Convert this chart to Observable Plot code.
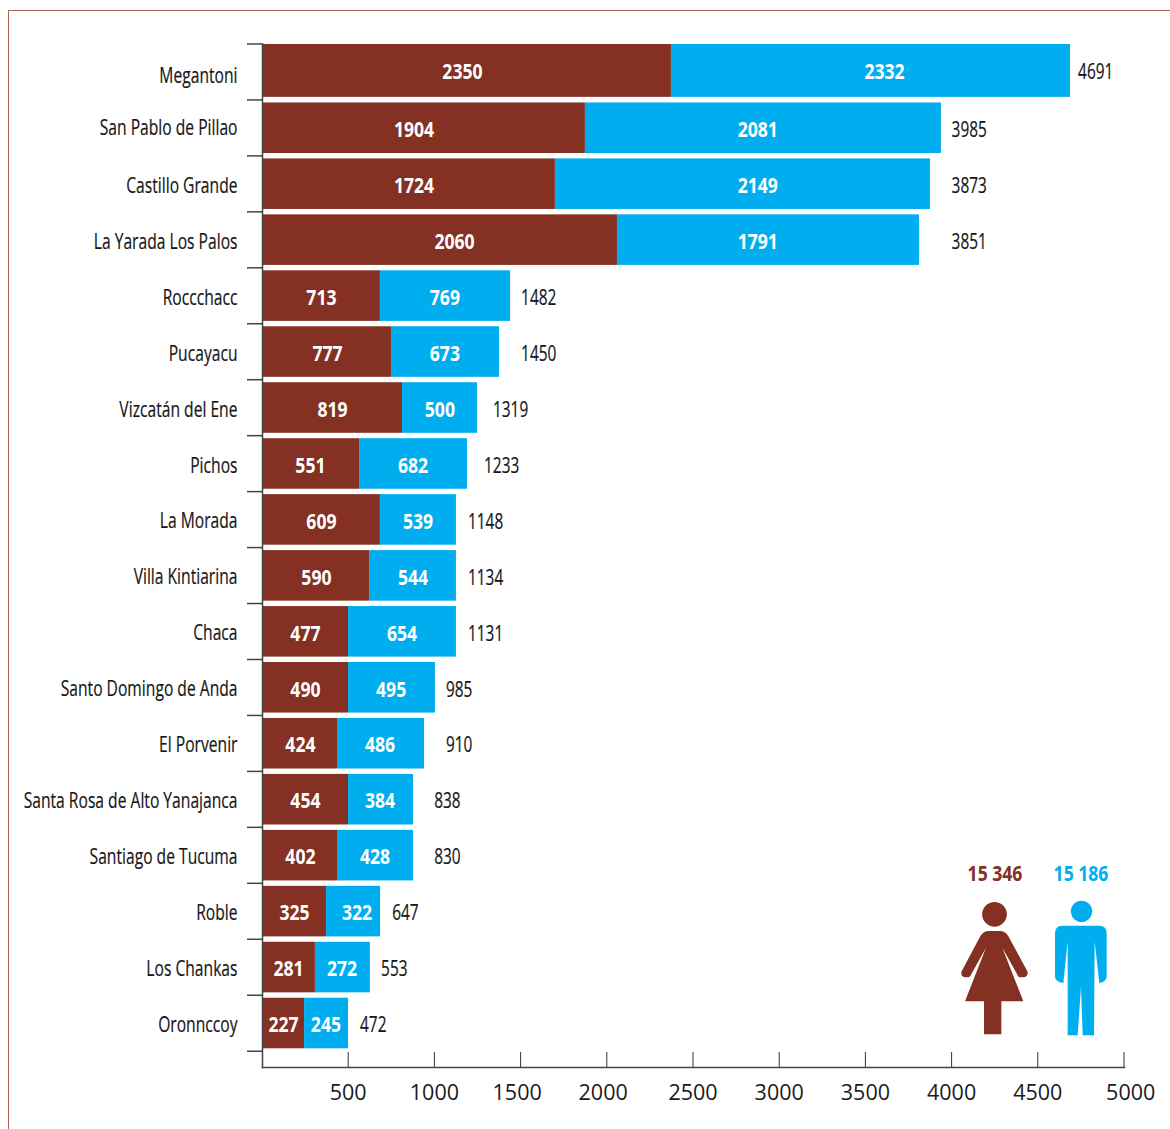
<!DOCTYPE html>
<html lang="es">
<head>
<meta charset="utf-8">
<script src="https://cdn.jsdelivr.net/npm/d3@7"></script>
<script src="https://cdn.jsdelivr.net/npm/@observablehq/plot@0.6"></script>
<style>
html,body{margin:0;padding:0;background:#fff;overflow:hidden}
#page{position:relative;width:1170px;height:1129px}
#border{position:absolute;left:8px;top:10px;right:-4px;bottom:-4px;border-left:1.5px solid #ad6259;border-top:1.5px solid #ad6259}
#chart{position:absolute;left:0;top:0}
#chart svg{display:block;max-width:none}
</style>
</head>
<body>
<div id="page"><div id="border"></div><div id="chart"></div></div>
<script>
const names = ["Megantoni","San Pablo de Pillao","Castillo Grande","La Yarada Los Palos","Roccchacc","Pucayacu","Vizcatán del Ene","Pichos","La Morada","Villa Kintiarina","Chaca","Santo Domingo de Anda","El Porvenir","Santa Rosa de Alto Yanajanca","Santiago de Tucuma","Roble","Los Chankas","Oronnccoy"];
// printed values
const women = [2350,1904,1724,2060,713,777,819,551,609,590,477,490,424,454,402,325,281,227];
const men   = [2332,2081,2149,1791,769,673,500,682,539,544,654,495,486,384,428,322,272,245];
const total = [4691,3985,3873,3851,1482,1450,1319,1233,1148,1134,1131,985,910,838,830,647,553,472];
// bar ends as actually drawn in the picture (the source snaps them)
const womenBarEnd = [2372,1873,1699,2059,684,748,812,563,684,621,499,499,435,499,435,371,307,244];
const totalBarEnd = [4687,3938,3875,3811,1439,1375,1247,1189,1125,1125,1125,1003,940,876,876,685,626,499];
// where the printed values sit, on the axis
const womenLabelAt = [1160,879,879,1114,342,377,406,278,342,313,249,249,220,249,220,186,151,122];
const menLabelAt   = [3608,2873,2873,2873,1058,1058,1029,873,902,873,809,746,682,682,653,548,461,368];
const totalLabelAt = [4731,3997,3997,3997,1500,1500,1337,1285,1192,1192,1192,1064,1064,996,996,752,688,566];
const xTicks = [500,1000,1500,2000,2500,3000,3500,4000,4500,5000];
// the axis labels that sit off their ticks in the picture, with the axis position they sit at
const offsetTicks = [1500,2000,5000];
const offsetTickAt = [1477,1976,5036];
const sexTotals = ["15 346","15 186"];

const BROWN = "#843022", BLUE = "#00aeef", INK = "#161616";
const FACE = "'Open Sans',sans-serif";
const rows = names.map((name,i)=>({name,i,w:women[i],m:men[i],t:total[i],wEnd:womenBarEnd[i],tEnd:totalBarEnd[i],wAt:womenLabelAt[i],mAt:menLabelAt[i],tAt:totalLabelAt[i]}));
const first = rows.slice(0,1), rest = rows.slice(1);

function barLayer(data, insetTop, insetBottom){
  return [
    Plot.barX(data,{y:"name",x1:0,x2:"wEnd",fill:BROWN,insetTop,insetBottom}),
    Plot.barX(data,{y:"name",x1:"wEnd",x2:"tEnd",fill:BLUE,insetTop,insetBottom})
  ];
}
function valueLayer(data, dy){
  const white = {y:"name",dy,fill:"#fff",fontFamily:FACE,fontSize:22,fontWeight:700,className:"cond-bold"};
  return [
    Plot.text(data,{...white,x:"wAt",text:d=>String(d.w)}),
    Plot.text(data,{...white,x:"mAt",text:d=>String(d.m)}),
    Plot.text(data,{y:"name",dy,x:"tAt",text:d=>String(d.t),textAnchor:"start",fill:INK,stroke:INK,strokeWidth:0.2,fontFamily:FACE,fontSize:22,className:"cond-num"}),
  ];
}
function categoryLayer(data, dy){
  return Plot.text(data,{y:"name",x:d=>-145,dy,text:"name",textAnchor:"end",fill:INK,stroke:INK,strokeWidth:0.2,fontFamily:FACE,fontSize:22,className:"cond-cat"});
}
// pictograms and their totals, in picture space
function pictograms(index, scales, values, dim, context){
  const g = d3.create("svg:g");
  const icons = g.append("g").attr("transform","translate(900 850) scale(0.33333)");
  icons.append("circle").attr("cx",283.5).attr("cy",193).attr("r",37).attr("fill",BROWN);
  icons.append("path").attr("fill",BROWN).attr("d","M264,243 L302,243 Q318,245 326,260 L382,364 Q386,379 372,382 L358,382 Q353,380 351,372 L307,293 L370,454 L304,454 L304,553 L252,553 L252,454 L195,454 L258,293 L214,372 Q212,380 206,382 L194,382 Q181,379 185,364 L240,260 Q248,245 264,243 Z");
  icons.append("circle").attr("cx",544.5).attr("cy",184).attr("r",32).attr("fill",BLUE);
  icons.append("path").attr("fill",BLUE).attr("d","M487,227 L598,227 Q620,227 620,250 L620,380 Q618,396 598,399 L584,275 L582,556 L548,556 L543,410 L533,556 L503,556 L503,275 L490,399 Q467,396 465,380 L465,250 Q465,227 487,227 Z");
  g.append("g").attr("class","cond-bold").selectAll("text").data(sexTotals).join("text")
    .attr("transform",(d,i)=>`translate(${[995,1081][i]},881)`).attr("text-anchor","middle")
    .attr("fill",(d,i)=>[BROWN,BLUE][i]).attr("font-family",FACE).attr("font-size",22).attr("font-weight",700)
    .text(d=>d);
  return g.node();
}

const plot = Plot.plot({
  width:1170,height:1129,
  marginLeft:262,marginRight:46,marginTop:43.5,marginBottom:62,
  style:{background:"transparent"},
  x:{domain:[0,5000],axis:null},
  y:{type:"band",domain:names,range:[43.5,1050.7],padding:0,round:false,axis:null},
  marks:[
    ...barLayer(first,0.5,2.6),
    ...barLayer(rest,3,2.4),
    Plot.frame({anchor:"left",stroke:"#444",strokeWidth:1.5}),
    Plot.frame({anchor:"bottom",stroke:"#444",strokeWidth:1.5}),
    Plot.ruleY(names,{y:d=>d,x1:-87,x2:0,dy:-28,stroke:"#444",strokeWidth:1.5}),
    Plot.ruleY(names.slice(-1),{y:d=>d,x1:-87,x2:0,dy:28,stroke:"#444",strokeWidth:1.5}),
    Plot.axisX({anchor:"bottom",ticks:xTicks,tickSize:-15,tickPadding:32,dx:-0.5,stroke:"#333",tickFormat:d=>offsetTicks.includes(d)?"":String(d),fontFamily:FACE,fontSize:21.5,fill:"#1a1a1a",label:null}),
    Plot.text(offsetTicks,{x:(d,i)=>offsetTickAt[i],frameAnchor:"bottom",dy:32,text:d=>String(d),fontFamily:FACE,fontSize:21.5,fill:"#1a1a1a"}),
    ...valueLayer(first,0),
    ...valueLayer(rest,2),
    categoryLayer(first,3.5),
    categoryLayer(rest.slice(0,1),0),
    categoryLayer(rest.slice(1),1.8),
    pictograms
  ]
});
document.getElementById("chart").appendChild(plot);

// The reference face is condensed: squeeze real text to its measured widths.
function squeeze(cls, factor){
  plot.querySelectorAll(`g.${cls} text`).forEach(t=>{
    t.setAttribute("transform", `${t.getAttribute("transform")||""} scale(${factor.toFixed(4)} 1)`);
  });
}
const probe = [...plot.querySelectorAll("g.cond-cat text")].find(t=>t.textContent===names[13]);
squeeze("cond-cat", 214/probe.getComputedTextLength());
squeeze("cond-num", 0.70);
squeeze("cond-bold", 0.80);
</script>
</body>
</html>
